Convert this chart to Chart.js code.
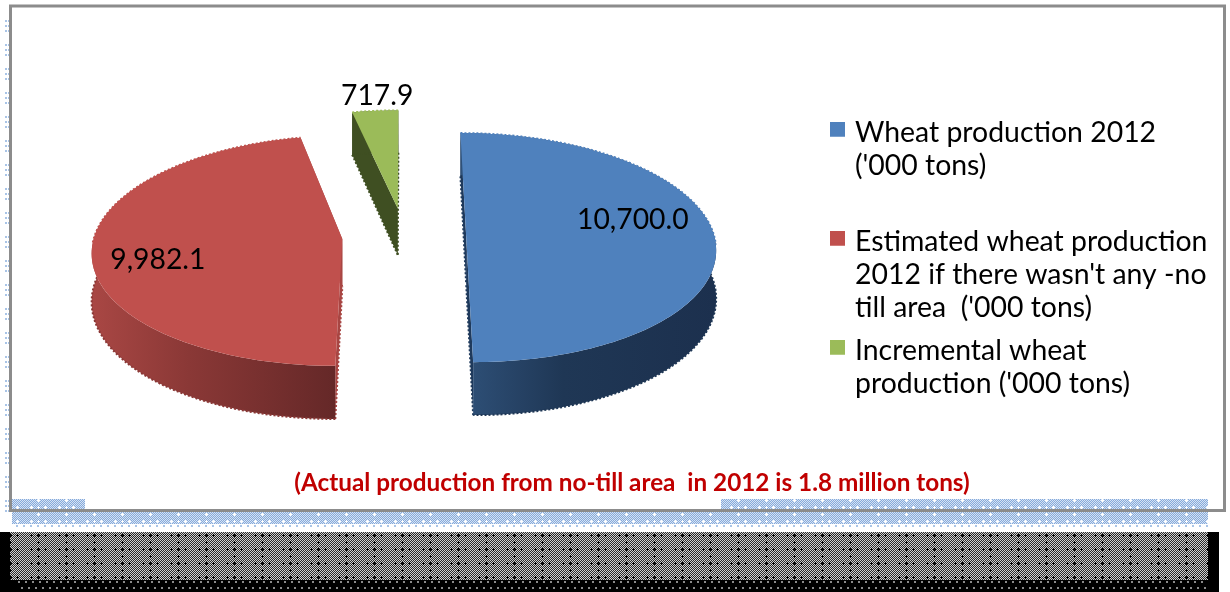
<!DOCTYPE html>
<html>
<head>
<meta charset="utf-8">
<title>Wheat production 2012</title>
<script src="https://cdn.jsdelivr.net/npm/chart.js@4"></script>
<style>
  html, body { margin: 0; padding: 0; background: #fff; overflow: hidden; }
  #box { position: absolute; left: 0; top: 0; width: 1230px; height: 592px; }
</style>
</head>
<body>
<div id="box"><canvas id="grafica"></canvas></div>
<script>
const categories = [
  ["Wheat production 2012", "('000 tons)", ""],
  ["Estimated wheat production", "2012 if there wasn't any -no", "till area  ('000 tons)"],
  ["Incremental wheat", "production ('000 tons)"],
];
const production = [10700.0, 9982.1, 717.9];
const topColors = ["#4f81bd", "#c0504d", "#9bbb59"];
const sideColors = [
  ["#2f5179", "#1f3755", "#1c304e"],
  ["#a94744", "#8a3836", "#652828"],
  ["#3f4f22", "#3f4f22", "#3f4f22"],
];
const wallColors = ["#1f3a5c", "#a84643", "#3f4f22"];
const note = "(Actual production from no-till area  in 2012 is 1.8 million tons)";

const FONT = "Lato, Carlito, sans-serif";

// repeating tile for the stippled bands: fine checker with rows of small crosses
function stippleTile(a, b, cross) {
  const c = document.createElement("canvas");
  c.width = 28;
  c.height = 14;
  const t = c.getContext("2d");
  for (let y = 0; y < 14; y++) {
    for (let x = 0; x < 28; x++) {
      t.fillStyle = (x + y) % 2 ? a : b;
      t.fillRect(x, y, 1, 1);
    }
  }
  t.fillStyle = cross;
  [[3, 3], [10, 3], [17, 3], [10, 10]].forEach(([x, y]) => {
    t.fillRect(x - 1, y, 3, 1);
    t.fillRect(x, y - 1, 1, 3);
  });
  return c;
}

// legend swatch, painted high in its canvas so it sits above the text's middle
function swatch(color) {
  const c = document.createElement("canvas");
  c.width = 15;
  c.height = 23;
  const t = c.getContext("2d");
  t.fillStyle = color;
  t.fillRect(0, 0, 15, 15);
  return c;
}

// page furniture behind the chart: dotted bands, black strip, frame
const backdrop = {
  id: "backdrop",
  beforeDraw(chart) {
    const ctx = chart.ctx;
    const blue = ctx.createPattern(stippleTile("#86aadb", "#d6e3f4", "#ffffff"), "repeat");
    const dark = ctx.createPattern(stippleTile("#2a2a2a", "#d0d0d0", "#000000"), "repeat");
    ctx.save();
    ctx.fillStyle = "#ffffff";
    ctx.fillRect(0, 0, 1230, 592);

    ctx.fillStyle = blue;
    ctx.fillRect(12, 499, 73, 10);
    ctx.fillRect(721, 499, 487, 10);
    ctx.fillRect(12, 512, 1196, 12);

    ctx.fillStyle = "#a9c4e6";
    for (let x = 16; x < 1208; x += 7) ctx.fillRect(x, 525, 2, 2);
    for (let y = 20; y < 508; y += 24) {
      [0, 5, 10].forEach((d) => {
        ctx.fillRect(5, y + d, 2, 2);
        ctx.fillRect(8, y + d, 2, 2);
      });
    }

    ctx.fillStyle = "#000000";
    ctx.fillRect(0, 532, 1219, 60);
    ctx.fillStyle = dark;
    ctx.fillRect(10, 532, 1198, 48);
    ctx.fillStyle = "#8a8a8a";
    for (let x = 18; x < 1205; x += 7) {
      ctx.fillRect(x, 581, 2, 2);
      ctx.fillRect(x + 3, 587, 2, 2);
    }

    ctx.strokeStyle = "#8c8c8c";
    ctx.lineWidth = 3;
    ctx.strokeRect(10.5, 6, 1214, 504.5);
    ctx.restore();
  },
  afterLayout(chart) {
    // the legend clips to its own box, so move all of its edges
    chart.legend.left = 823.8;
    chart.legend.right = 1230;
    chart.legend.top = 109;
    chart.legend.bottom = 592;
  },
  afterDraw(chart) {
    const ctx = chart.ctx;
    ctx.save();
    ctx.fillStyle = "#c00000";
    ctx.font = "bold 24.3px " + FONT;
    ctx.textAlign = "center";
    ctx.textBaseline = "middle";
    ctx.fillText(note, 632, 483);
    ctx.restore();
  },
};

// draws the pie's arc elements as thick, tilted wedges seen in perspective
const pie3d = {
  id: "pie3d",
  beforeDatasetDraw(chart, args, opts) {
    const ctx = chart.ctx;
    const arcs = args.meta.data;
    const project = (cx, cy, X, Y, z) => {
      const s = opts.distance / (opts.distance - Y);
      return [cx + X * s, cy + (opts.tilt * Y + z) * s];
    };

    const path = (pts) => {
      ctx.beginPath();
      pts.forEach((p, i) => (i ? ctx.lineTo(p[0], p[1]) : ctx.moveTo(p[0], p[1])));
    };

    const rough = (pts, color) => {
      ctx.save();
      ctx.strokeStyle = color;
      ctx.lineWidth = 2;
      ctx.setLineDash([2, 2]);
      path(pts);
      ctx.stroke();
      ctx.restore();
    };

    // back slices first
    for (let i = arcs.length - 1; i >= 0; i--) {
      const arc = arcs[i];
      const mid = (arc.startAngle + arc.endAngle) / 2;
      const ox = Math.cos(mid) * arc.options.offset;
      const oy = Math.sin(mid) * arc.options.offset;
      const steps = Math.ceil((arc.endAngle - arc.startAngle) * 40);
      const top = [];
      const low = [];
      const backRim = [];
      for (let n = 0; n <= steps; n++) {
        const a = arc.startAngle + ((arc.endAngle - arc.startAngle) * n) / steps;
        const X = ox + Math.cos(a) * arc.outerRadius;
        const Y = oy + Math.sin(a) * arc.outerRadius;
        const p = project(arc.x, arc.y, X, Y, 0);
        top.push(p);
        low.push(project(arc.x, arc.y, X, Y, opts.depth));
        if (Y < 20) backRim.push(p);
      }
      const hub = project(arc.x, arc.y, ox, oy, 0);
      const hubLow = project(arc.x, arc.y, ox, oy, opts.depth);

      // flat cut faces
      [[top[0], low[0]], [top[steps], low[steps]]].forEach(([a, b]) => {
        ctx.fillStyle = wallColors[i];
        path([hub, a, b, hubLow]);
        ctx.closePath();
        ctx.fill();
        rough([b, hubLow], wallColors[i]);
      });

      // curved outer wall
      const xs = top.map((p) => p[0]);
      const left = Math.min(...xs);
      const right = Math.max(...xs);
      const shades = sideColors[i];
      const grad = ctx.createLinearGradient(left, 0, right, 0);
      grad.addColorStop(0, shades[0]);
      grad.addColorStop(0.4, shades[1]);
      grad.addColorStop(1, shades[2]);
      ctx.fillStyle = grad;
      path(top.concat(low.slice().reverse()));
      ctx.closePath();
      ctx.fill();
      rough(low, shades[1]);

      // top face
      ctx.fillStyle = topColors[i];
      path([hub].concat(top));
      ctx.closePath();
      ctx.fill();
      if (backRim.length > 1) rough(backRim, topColors[i]);
    }

    // value labels
    ctx.save();
    ctx.fillStyle = "#000000";
    ctx.font = opts.labelFont;
    ctx.textAlign = "center";
    ctx.textBaseline = "middle";
    arcs.forEach((arc, i) => {
      const mid = (arc.startAngle + arc.endAngle) / 2;
      const d = arc.options.offset + arc.outerRadius * opts.labelReach[i];
      const p = project(arc.x, arc.y, Math.cos(mid) * d, Math.sin(mid) * d, 0);
      const text = production[i].toLocaleString("en-US", { minimumFractionDigits: 1 });
      ctx.fillText(text, p[0] + opts.labelNudge[i], p[1] + opts.labelShift[i]);
    });
    ctx.restore();
    return false;
  },
};

new Chart(document.getElementById("grafica"), {
  type: "pie",
  data: {
    labels: categories,
    datasets: [
      {
        data: production,
        backgroundColor: topColors,
        borderWidth: 0,
        offset: 62,
        hoverOffset: 0,
      },
    ],
  },
  plugins: [backdrop, pie3d],
  options: {
    responsive: true,
    maintainAspectRatio: false,
    animation: false,
    events: [],
    radius: 248,
    layout: { padding: { left: 0, top: 0, right: 29, bottom: 120 } },
    plugins: {
      tooltip: { enabled: false },
      title: { display: false },
      legend: {
        position: "right",
        align: "start",
        labels: {
          color: "#000000",
          usePointStyle: true,
          pointStyleWidth: 7,
          boxHeight: 15,
          padding: 10,
          font: { family: FONT, size: 28.4, lineHeight: 33 / 28.4 },
          generateLabels: () =>
            categories.map((text, i) => ({
              text,
              fillStyle: topColors[i],
              strokeStyle: topColors[i],
              lineWidth: 0,
              pointStyle: swatch(topColors[i]),
              index: i,
            })),
        },
      },
      pie3d: {
        distance: 2443,
        tilt: 0.457,
        depth: 47.6,
        labelFont: "28.3px " + FONT,
        labelReach: [0.68, 0.75, 1],
        labelNudge: [-2, 3, 2],
        labelShift: [-16, 12, -15],
      },
    },
  },
});
</script>
</body>
</html>
